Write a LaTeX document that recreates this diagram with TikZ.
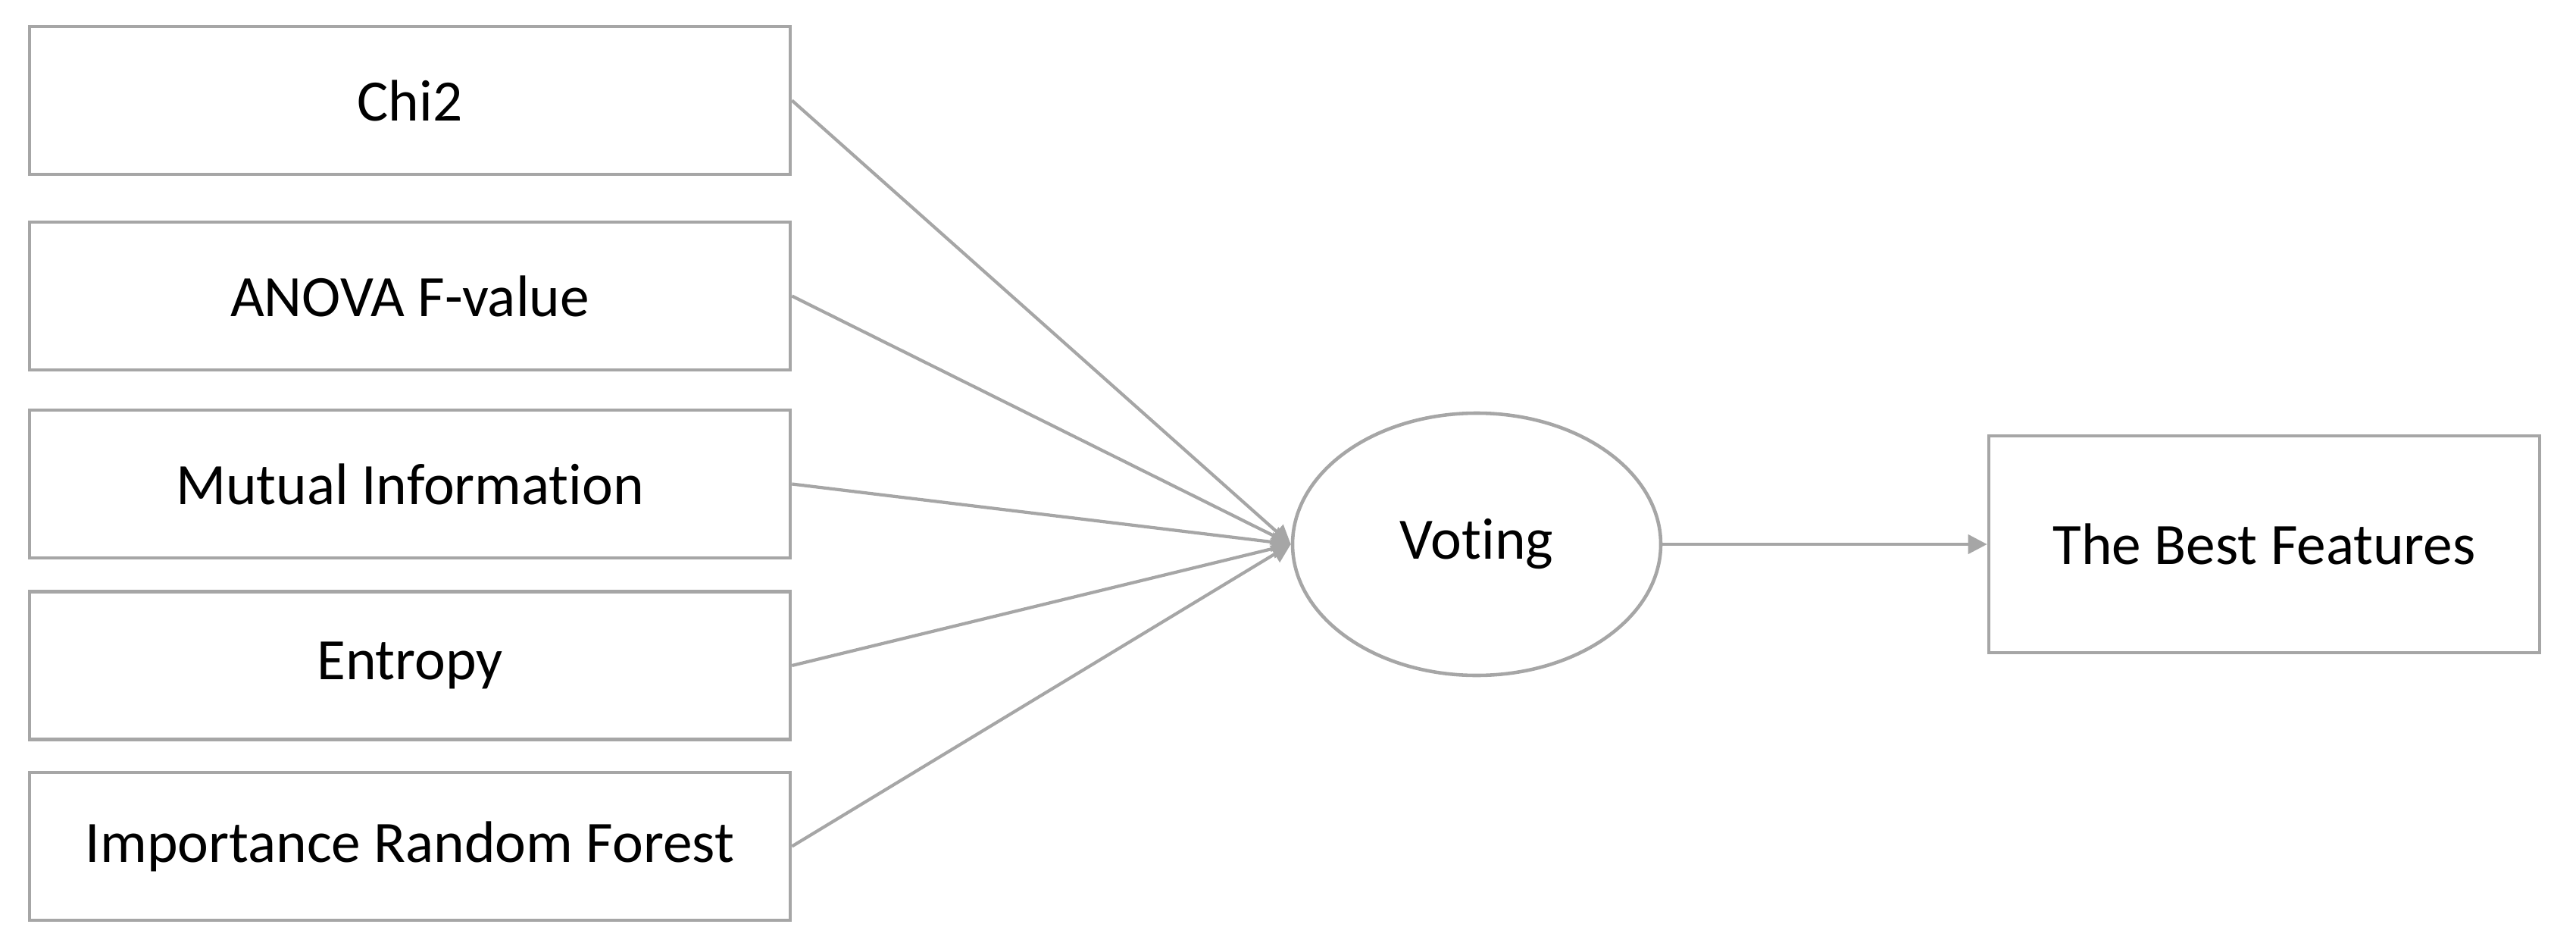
\documentclass[tikz,border=0pt]{standalone}
\usepackage{fontspec}
\setmainfont{Carlito}[Ligatures=NoCommon]
\usetikzlibrary{arrows.meta,shapes.geometric}
\definecolor{linegray}{HTML}{A6A6A6}
\tikzset{
  base/.style={draw=linegray, line width=1.3pt, fill=white, inner sep=0pt, font=\fontsize{22}{26}\selectfont, text=black},
  lbox/.style={base, rectangle, minimum width=10.04cm, minimum height=1.95cm},
  vote/.style={base, ellipse, minimum width=4.86cm, minimum height=3.46cm},
  outbox/.style={base, rectangle, minimum width=7.27cm, minimum height=2.86cm},
  conn/.style={draw=linegray, line width=1.2pt, -{Triangle[length=0.25cm, width=0.25cm]}}
}
\begin{document}
\begin{tikzpicture}
\useasboundingbox (0,0) rectangle (34,-12.44);
\node[lbox] (chi) at (5.41,-1.325) {Chi2};
\node[lbox] (anova) at (5.41,-3.905) {ANOVA F-value};
\node[lbox] (mi) at (5.41,-6.385) {Mutual Information};
\node[lbox] (ent) at (5.41,-8.78) {Entropy};
\node[lbox] (irf) at (5.41,-11.165) {Importance Random Forest};
\node[vote] (vote) at (19.49,-7.18) {Voting};
\node[outbox] (best) at (29.885,-7.18) {The Best Features};
\foreach \n in {chi,anova,mi,ent,irf}
  \draw[conn] (\n.east) -- (vote.west);
\draw[conn] (vote.east) -- (best.west);
\end{tikzpicture}
\end{document}
